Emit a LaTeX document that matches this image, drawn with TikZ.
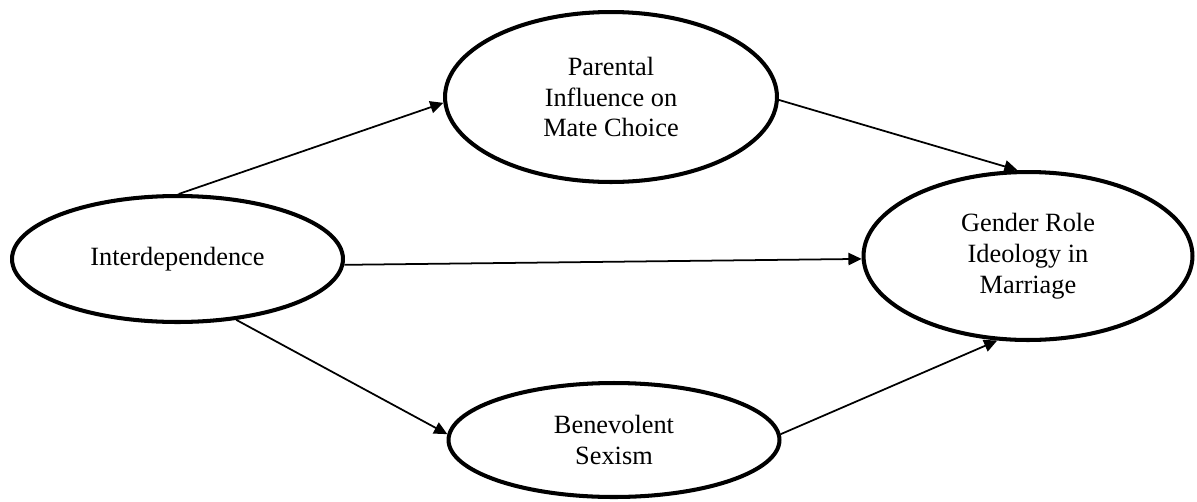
\documentclass[tikz,border=0pt]{standalone}
\usepackage{fontspec}
\setmainfont{Liberation Serif}
\usetikzlibrary{shapes.geometric,arrows.meta}
\begin{document}
\begin{tikzpicture}[x=0.02cm,y=-0.02cm,
  construct/.style={ellipse,draw,line width=2.3pt,inner sep=0pt,align=center,
    font=\fontsize{15}{17.6}\selectfont},
  path link/.style={line width=1pt,-{Triangle[length=7.5pt,width=7pt]}}]
\useasboundingbox (0,0) rectangle (1197,501);
% latent constructs
\node[construct,minimum width=6.62cm,minimum height=2.52cm] (inter) at (177.5,259) {Interdependence};
\node[construct,minimum width=6.64cm,minimum height=3.40cm] (par) at (611,97) {Parental\\Influence on\\Mate Choice};
\node[construct,minimum width=6.58cm,minimum height=3.36cm] (gen) at (1028,256) {Gender Role\\Ideology in\\Marriage};
\node[construct,minimum width=6.62cm,minimum height=2.28cm] (ben) at (614,440) {Benevolent\\Sexism};
% structural paths
\draw[path link] (inter.89) -- (par.182);
\draw[path link] (par.-1) -- (gen.97);
\draw[path link] (inter.-2) -- (gen.181);
\draw[path link] (inter.-46) -- (ben.178);
\draw[path link] (ben.2) -- (gen.-110);
\end{tikzpicture}
\end{document}
